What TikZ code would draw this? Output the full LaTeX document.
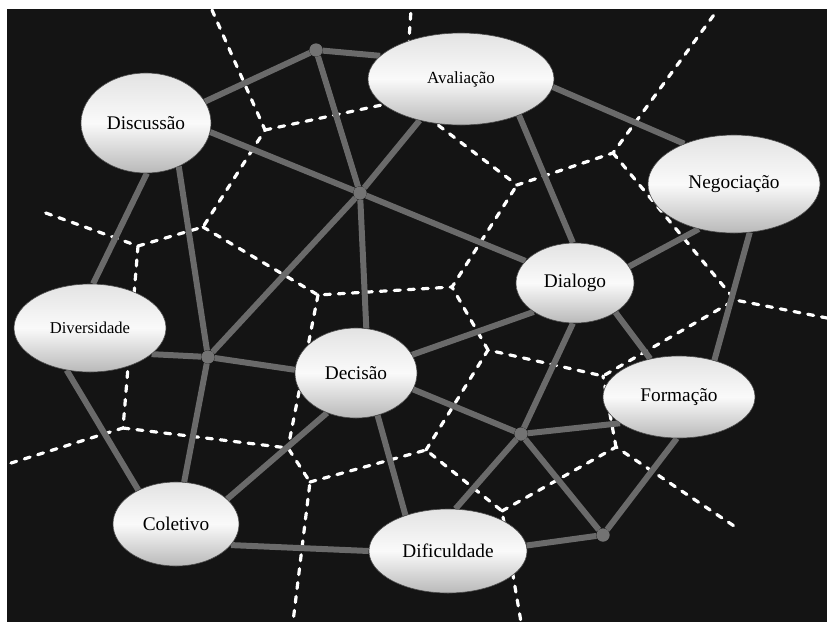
\documentclass[tikz,border=0pt]{standalone}
\usepackage{fontspec}
\setmainfont{Liberation Serif}
\usetikzlibrary{shapes.geometric}
\definecolor{bgdark}{HTML}{141414}
\definecolor{edgegray}{HTML}{6A6A6A}
\definecolor{hubgray}{HTML}{737373}
\pgfdeclarelayer{bg}
\pgfdeclarelayer{mid}
\pgfsetlayers{bg,mid,main}
\tikzset{
  concept/.style={ellipse, draw=black!70, line width=0.6pt, top color=gray!22,
    bottom color=gray!55, middle color=white!96!gray, inner sep=0pt},
  hub/.style={circle, fill=hubgray, minimum size=13pt, inner sep=0pt},
  link/.style={draw=edgegray, line width=6pt},
  border/.style={draw=white, line width=3.2pt, line cap=round, line join=round,
    dash pattern=on 6pt off 8pt},
  big/.style={font=\fontsize{19.3}{22}\selectfont},
  small/.style={font=\fontsize{17}{20}\selectfont}
}
\begin{document}
\begin{tikzpicture}[x=1pt,y=-1pt]
\useasboundingbox (0,0) rectangle (827,622);
\begin{pgfonlayer}{bg}
  \fill[white] (0,0) rectangle (827,622);
  \fill[bgdark] (7,9) rectangle (827,622);
\end{pgfonlayer}

% concept nodes
\node[concept, big, minimum width=130pt, minimum height=100pt] (disc) at (146,123) {Discussão};
\node[concept, small, minimum width=186pt, minimum height=92pt] (aval) at (461,79) {Avaliação};
\node[concept, big, minimum width=172pt, minimum height=98pt] (nego) at (734,184) {Negociação};
\node[concept, big, minimum width=118pt, minimum height=80pt] (dial) at (575,283) {Dialogo};
\node[concept, font=\fontsize{16.6}{19}\selectfont, minimum width=152pt, minimum height=88pt] (dive) at (90,328) {Diversidade};
\node[concept, big, minimum width=122pt, minimum height=90pt] (deci) at (356,373) {Decisão};
\node[concept, big, minimum width=126pt, minimum height=84pt] (cole) at (176,524) {Coletivo};
\node[concept, big, minimum width=158pt, minimum height=84pt] (difi) at (448,551) {Dificuldade};
\node[concept, big, minimum width=152pt, minimum height=82pt] (form) at (679,397) {Formação};

% junctions of the dashed network
\coordinate (T1) at (212,10);
\coordinate (T3) at (411,10);
\coordinate (T2) at (716,12);
\coordinate (L1) at (43,212);
\coordinate (L2) at (8,464);
\coordinate (B1) at (293,622);
\coordinate (B2) at (521,622);
\coordinate (R1) at (827,318);
\coordinate (E1) at (740,530);
\coordinate (J1) at (265,130);
\coordinate (Ja) at (405,100);
\coordinate (J2) at (203,227);
\coordinate (J3) at (138,246);
\coordinate (J6) at (123,428);
\coordinate (J4) at (318,295);
\coordinate (J5) at (452,287);
\coordinate (J16) at (517,185);
\coordinate (J15) at (613,153);
\coordinate (J14) at (735,300);
\coordinate (J13) at (603,376);
\coordinate (J12) at (488,350);
\coordinate (J10) at (426,450);
\coordinate (J7) at (288,448);
\coordinate (J9) at (310,482);
\coordinate (J11) at (502,511);
\coordinate (J17) at (616,447);

\begin{pgfonlayer}{mid}
  % dashed boundaries
  \draw[border] (T1) -- (J1) -- (J2) -- (J3) -- (L1);
  \draw[border] (J1) -- (Ja) -- (T3);
  \draw[border] (Ja) -- (J16) -- (J15) -- (T2);
  \draw[border] (J3) -- (J6) -- (L2);
  \draw[border] (J6) -- (J7) -- (J9) -- (B1);
  \draw[border] (J2) -- (J4) -- (J5) -- (J16);
  \draw[border] (J4) -- (J7);
  \draw[border] (J9) -- (J10) -- (J11) -- (B2);
  \draw[border] (J10) -- (J12) -- (J13) -- (J14) -- (R1);
  \draw[border] (J12) -- (J5);
  \draw[border] (J15) -- (J14);
  \draw[border] (J11) -- (J17) -- (E1);
  \draw[border] (J17) -- (J13);

  % hubs
  \node[hub] (h1) at (316,50) {};
  \node[hub] (h2) at (360,193) {};
  \node[hub] (h3) at (208,357) {};
  \node[hub] (h4) at (521,434) {};
  \node[hub] (h5) at (603,535) {};

  % grey links
  \draw[link] (disc.20.7) -- (h1);
  \draw[link] (h1) -- (aval.164);
  \draw[link] (h1) -- (h2);
  \draw[link] (h2) -- (deci.77);
  \draw[link] (disc.-8) -- (h2);
  \draw[link] (h2) -- (dial.156);
  \draw[link] (h2) -- (aval.-135);
  \draw[link] (h2) -- (h3);
  \draw[link] (disc.-53) -- (h3);
  \draw[link] (disc.-89) -- (dive.86);
  \draw[link] (dive.-23) -- (h3);
  \draw[link] (h3) -- (deci.177);
  \draw[link] (h3) -- (cole.79);
  \draw[link] (dive.-119) -- (cole.138);
  \draw[link] (cole.26) -- (deci.-126);
  \draw[link] (cole.-21) -- (difi.180);
  \draw[link] (deci.-63) -- (difi.140);
  \draw[link] (deci.18) -- (dial.-145);
  \draw[link] (deci.-16) -- (h4);
  \draw[link] (h4) -- (form.-156);
  \draw[link] (h4) -- (dial.-93);
  \draw[link] (h4) -- (difi.80);
  \draw[link] (h4) -- (h5);
  \draw[link] (h5) -- (difi.4);
  \draw[link] (h5) -- (form.-93);
  \draw[link] (dial.-36) -- (form.127);
  \draw[link] (dial.17) -- (nego.-128);
  \draw[link] (aval.-32) -- (dial.93);
  \draw[link] (aval.-5) -- (nego.141);
  \draw[link] (nego.-72) -- (form.46);

  \fill[hubgray] (h1) circle (6.5pt) (h2) circle (6.5pt) (h3) circle (6.5pt)
     (h4) circle (6.5pt) (h5) circle (6.5pt);
\end{pgfonlayer}
\end{tikzpicture}
\end{document}
